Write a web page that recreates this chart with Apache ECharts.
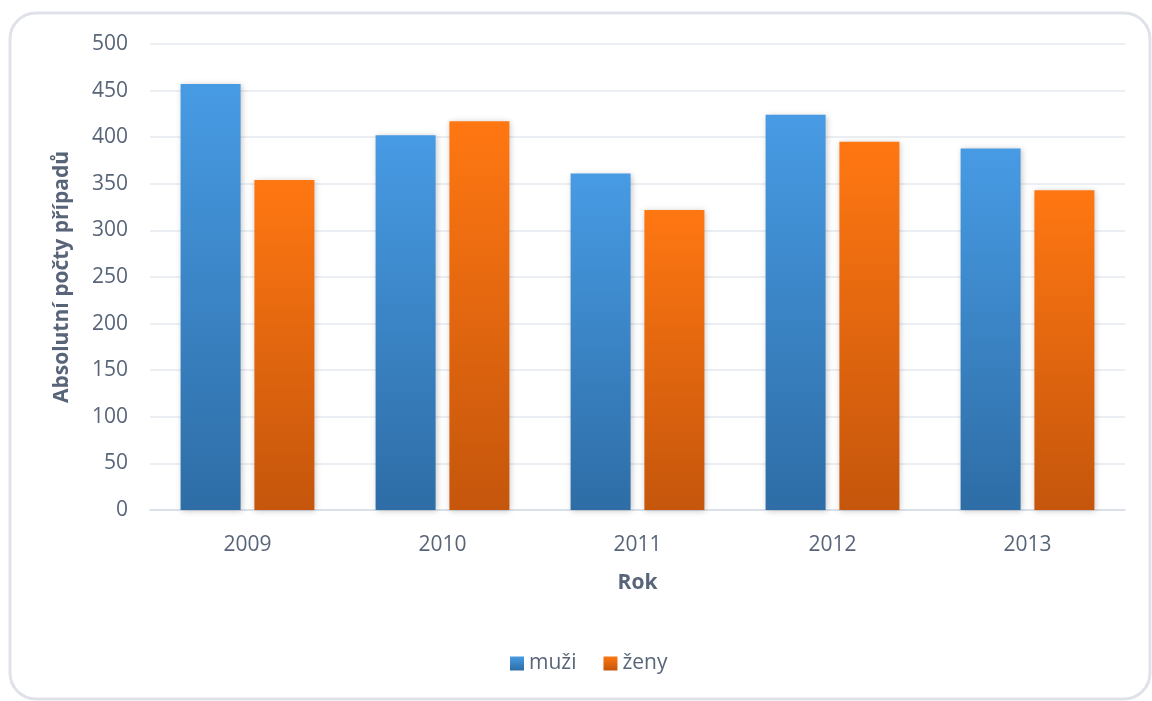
<!DOCTYPE html>
<html>
<head>
<meta charset="utf-8">
<script src="https://cdn.jsdelivr.net/npm/echarts@6/dist/echarts.min.js"></script>
<style>
  html, body { margin: 0; padding: 0; background: #ffffff; }
  #chart { width: 1152px; height: 701px; }
</style>
</head>
<body>
<div id="chart"></div>
<script>
// Yearly case counts split by sex
const years = ['2009', '2010', '2011', '2012', '2013'];
const muzi = [457, 402, 361, 424, 388];
const zeny = [354, 417, 322, 395, 343];
const yTicks = { min: 0, max: 500, interval: 50 };

const FONT = '"Open Sans", "Noto Sans", sans-serif';
const TEXT = '#586579';

function vGrad(top, bottom) {
  return new echarts.graphic.LinearGradient(0, 0, 0, 1, [
    { offset: 0, color: top },
    { offset: 1, color: bottom }
  ]);
}

const barShadow = {
  shadowBlur: 6,
  shadowColor: 'rgba(0,0,0,0.22)',
  shadowOffsetX: 1,
  shadowOffsetY: 1
};

const chart = echarts.init(document.getElementById('chart'), null, { renderer: 'canvas' });
chart.setOption({
  backgroundColor: '#ffffff',
  animation: false,
  textStyle: { fontFamily: FONT },
  graphic: [{
    type: 'rect',
    silent: true,
    z: -10,
    shape: { x: 10, y: 13, width: 1140, height: 686, r: 26 },
    style: { fill: '#ffffff', stroke: '#dfe3e9', lineWidth: 3 }
  }],
  grid: {
    left: 150, right: 27, top: 44, bottom: 191,
    containLabel: false, outerBoundsMode: 'none'
  },
  legend: {
    left: 505,
    top: 648,
    itemWidth: 14,
    itemHeight: 14,
    itemGap: 27,
    icon: 'rect',
    textStyle: { color: TEXT, fontSize: 21, fontFamily: FONT },
    data: ['muži', 'ženy']
  },
  xAxis: {
    type: 'category',
    data: years,
    name: 'Rok',
    nameLocation: 'middle',
    nameGap: 63,
    nameTextStyle: { color: TEXT, fontSize: 21, fontWeight: 'bold', fontFamily: FONT },
    axisLine: { lineStyle: { color: '#d6dde7', width: 1.5 } },
    axisTick: { show: false },
    axisLabel: { color: TEXT, fontSize: 21, margin: 25, fontFamily: FONT }
  },
  yAxis: {
    type: 'value',
    min: yTicks.min,
    max: yTicks.max,
    interval: yTicks.interval,
    name: 'Absolutní počty případů',
    nameLocation: 'middle',
    nameGap: 77,
    nameTextStyle: { color: TEXT, fontSize: 21, fontWeight: 'bold', fontFamily: FONT },
    axisLine: { show: false },
    axisTick: { show: false },
    axisLabel: { color: TEXT, fontSize: 21, margin: 22, fontFamily: FONT },
    splitLine: { lineStyle: { color: '#e4e8ee', width: 1.5 } }
  },
  series: [
    {
      name: 'muži',
      type: 'bar',
      data: muzi,
      barWidth: 60,
      barGap: '23%',
      itemStyle: Object.assign({ color: vGrad('#479be4', '#2e6da6') }, barShadow)
    },
    {
      name: 'ženy',
      type: 'bar',
      data: zeny,
      barWidth: 60,
      itemStyle: Object.assign({ color: vGrad('#ff7712', '#c5560c') }, barShadow)
    }
  ]
});
</script>
</body>
</html>
